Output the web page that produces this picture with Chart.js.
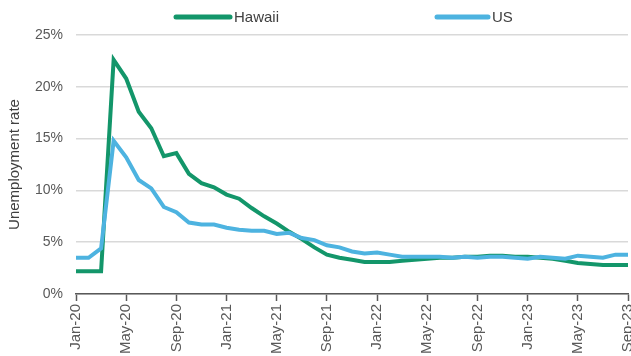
<!DOCTYPE html>
<html>
<head>
<meta charset="utf-8">
<script src="https://cdn.jsdelivr.net/npm/chart.js@4/dist/chart.umd.min.js"></script>
<style>
  html, body { margin: 0; padding: 0; background: #ffffff; }
  #wrap { width: 631px; height: 356px; position: relative; }
</style>
</head>
<body>
<div id="wrap"><canvas id="chart"></canvas></div>
<script>
// Monthly labels, Jan-20 through Sep-23
const months = [
  'Jan-20','Feb-20','Mar-20','Apr-20','May-20','Jun-20','Jul-20','Aug-20','Sep-20','Oct-20','Nov-20','Dec-20',
  'Jan-21','Feb-21','Mar-21','Apr-21','May-21','Jun-21','Jul-21','Aug-21','Sep-21','Oct-21','Nov-21','Dec-21',
  'Jan-22','Feb-22','Mar-22','Apr-22','May-22','Jun-22','Jul-22','Aug-22','Sep-22','Oct-22','Nov-22','Dec-22',
  'Jan-23','Feb-23','Mar-23','Apr-23','May-23','Jun-23','Jul-23','Aug-23','Sep-23'
];

// Unemployment rate, percent
const hawaii = [
  2.2, 2.2, 2.2, 22.6, 20.8, 17.6, 16.0, 13.3, 13.6, 11.6, 10.7, 10.3,
  9.6, 9.2, 8.3, 7.5, 6.8, 6.0, 5.3, 4.5, 3.8, 3.5, 3.3, 3.1,
  3.1, 3.1, 3.2, 3.3, 3.4, 3.5, 3.5, 3.6, 3.6, 3.7, 3.7, 3.6,
  3.6, 3.5, 3.4, 3.2, 3.0, 2.9, 2.8, 2.8, 2.8
];
const us = [
  3.5, 3.5, 4.4, 14.8, 13.2, 11.0, 10.2, 8.4, 7.9, 6.9, 6.7, 6.7,
  6.4, 6.2, 6.1, 6.1, 5.8, 5.9, 5.4, 5.2, 4.7, 4.5, 4.1, 3.9,
  4.0, 3.8, 3.6, 3.6, 3.6, 3.6, 3.5, 3.6, 3.5, 3.6, 3.6, 3.5,
  3.4, 3.6, 3.5, 3.4, 3.7, 3.6, 3.5, 3.8, 3.8
];

const yTicks = [0, 5, 10, 15, 20, 25];
const seriesNames = ['Hawaii', 'US'];

const GREEN = '#13966a';
const BLUE = '#4db3e0';
const TEXT = '#595959';
const FONT = "'Liberation Sans', Arial, sans-serif";

// Legend drawn as long line swatches above the plot
const lineLegend = {
  id: 'lineLegend',
  afterDraw(chart) {
    const ctx = chart.ctx;
    const spots = [{ x: 176, w: 54 }, { x: 437, w: 51 }];
    ctx.save();
    ctx.font = '15px ' + FONT;
    ctx.textBaseline = 'middle';
    chart.data.datasets.forEach((ds, i) => {
      const s = spots[i];
      const y = 17;
      ctx.strokeStyle = ds.borderColor;
      ctx.lineWidth = 5;
      ctx.lineCap = 'round';
      ctx.beginPath();
      ctx.moveTo(s.x, y);
      ctx.lineTo(s.x + s.w, y);
      ctx.stroke();
      ctx.fillStyle = '#404040';
      ctx.fillText(ds.label, s.x + s.w + 4, y + 1);
    });
    ctx.restore();
  }
};

new Chart(document.getElementById('chart'), {
  type: 'line',
  data: {
    labels: months,
    datasets: [
      { label: seriesNames[0], data: hawaii, borderColor: GREEN, backgroundColor: GREEN,
        borderWidth: 4, pointRadius: 0, tension: 0, order: 1 },
      { label: seriesNames[1], data: us, borderColor: BLUE, backgroundColor: BLUE,
        borderWidth: 4, pointRadius: 0, tension: 0, order: 0 }
    ]
  },
  options: {
    responsive: true,
    maintainAspectRatio: false,
    animation: false,
    layout: { padding: { top: 35, right: 0, left: 4, bottom: 3 } },
    plugins: {
      legend: { display: false },
      tooltip: { enabled: false }
    },
    scales: {
      x: {
        type: 'category',
        offset: false,
        grid: {
          display: true,
          drawOnChartArea: false,
          drawTicks: true,
          tickLength: 7,
          tickWidth: 1.5,
          tickColor: (c) => (c.index % 4 === 0 ? '#595959' : 'rgba(0,0,0,0)')
        },
        border: { display: true, color: '#595959', width: 1.5 },
        ticks: {
          autoSkip: false,
          minRotation: 90,
          maxRotation: 90,
          padding: 3,
          color: TEXT,
          font: { family: FONT, size: 15 },
          callback: function (v, i) { return i % 4 === 0 ? months[i] : ''; }
        },
        afterFit: (s) => { s.height = 59; s.paddingRight = 3; s.paddingLeft = 0; }
      },
      y: {
        min: 0,
        max: 25,
        afterBuildTicks: (axis) => { axis.ticks = yTicks.map(v => ({ value: v })); },
        grid: { color: '#d9d9d9', lineWidth: 1.5, drawTicks: false },
        border: { display: false },
        ticks: {
          padding: 13,
          color: TEXT,
          font: { family: FONT, size: 14 },
          callback: (v) => v + '%'
        },
        title: {
          display: true,
          text: 'Unemployment rate',
          color: '#404040',
          font: { family: FONT, size: 15 },
          padding: { top: 2, bottom: 4 }
        },
        afterFit: (s) => { s.width = 72; s.paddingTop = 0; s.paddingBottom = 0; }
      }
    }
  },
  plugins: [lineLegend]
});
</script>
</body>
</html>
